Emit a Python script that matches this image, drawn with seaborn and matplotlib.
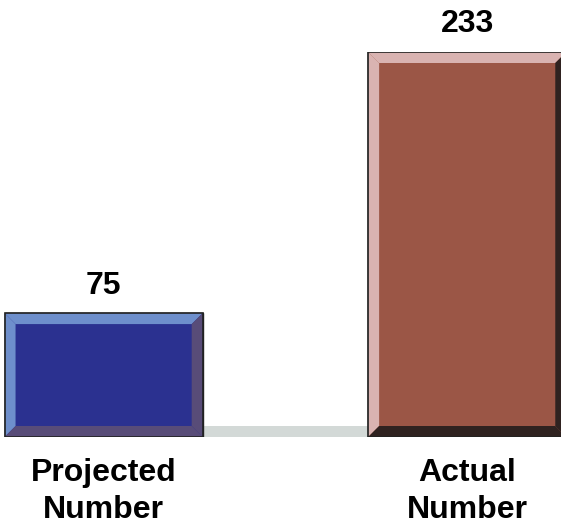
import matplotlib
matplotlib.use('Agg')
import matplotlib.pyplot as plt
from matplotlib.patches import Polygon
import seaborn as sns
import pandas as pd

# chart data
categories = ['Projected\nNumber', 'Actual\nNumber']
values = [75, 233]
face_colors = ['#2b3190', '#9b5646']
light_bevel = ['#6e8fcc', '#d9b3b1']
dark_bevel = ['#584c78', '#2f2220']

sns.set_theme(style='white')
plt.rcParams['font.family'] = ['Liberation Sans', 'DejaVu Sans']

df = pd.DataFrame({'category': categories, 'value': values})

fig = plt.figure(figsize=(5.61, 5.26), dpi=100)
ax = fig.add_axes([0, 89 / 526, 1, (437 - 52) / 526])

sns.barplot(data=df, x='category', y='value', hue='category',
            palette=face_colors, width=0.545, legend=False, ax=ax,
            edgecolor='#222222', linewidth=1.0, saturation=1)

ax.set_xlim(-0.285, 1.258)
ax.set_ylim(0, max(values))
ax.set_xlabel('')
ax.set_ylabel('')
ax.set_yticks([])
for s in ax.spines.values():
    s.set_visible(False)
ax.tick_params(axis='x', length=0, pad=15, colors='black')
for lbl in ax.get_xticklabels():
    lbl.set_fontsize(23)
    lbl.set_fontweight('bold')
    lbl.set_linespacing(1.3)
    lbl.set_verticalalignment('top')
    lbl.set_color('black')

fig.canvas.draw()

# pixel -> data conversion for bevel widths
bev_px = 11
inv = ax.transData.inverted()
x0d, y0d = inv.transform((0, 0))
x1d, y1d = inv.transform((bev_px, bev_px))
bx = x1d - x0d
by = y1d - y0d

bars = list(ax.patches)
bars.sort(key=lambda p: p.get_x())

# grey floor between the bars
left_edge = bars[0].get_x() + bars[0].get_width()
right_edge = bars[1].get_x()
ax.fill_between([left_edge, right_edge], 0, by, color='#d3d9d7', zorder=0.5, linewidth=0)

for i, p in enumerate(bars):
    x, y, w, h = p.get_x(), p.get_y(), p.get_width(), p.get_height()
    top = y + h
    r = x + w
    # top and left bevels (light)
    ax.add_patch(Polygon([(x, top), (r, top), (r - bx, top - by), (x + bx, top - by)],
                         closed=True, facecolor=light_bevel[i], edgecolor='none', zorder=3))
    ax.add_patch(Polygon([(x, y), (x, top), (x + bx, top - by), (x + bx, y + by)],
                         closed=True, facecolor=light_bevel[i], edgecolor='none', zorder=3))
    # right and bottom bevels (dark)
    ax.add_patch(Polygon([(r, top), (r, y), (r - bx, y + by), (r - bx, top - by)],
                         closed=True, facecolor=dark_bevel[i], edgecolor='none', zorder=3))
    ax.add_patch(Polygon([(x, y), (r, y), (r - bx, y + by), (x + bx, y + by)],
                         closed=True, facecolor=dark_bevel[i], edgecolor='none', zorder=3))
    # outline
    ax.add_patch(Polygon([(x, y), (r, y), (r, top), (x, top)], closed=True,
                         facecolor='none', edgecolor='#222222', linewidth=1.2, zorder=4))
    ax.annotate(f'{values[i]}', (x + w / 2, top), xytext=(0, 9), textcoords='offset points',
                ha='center', va='bottom', fontsize=23, fontweight='bold',
                color='black', annotation_clip=False)

fig.savefig('out.png', dpi=100)
